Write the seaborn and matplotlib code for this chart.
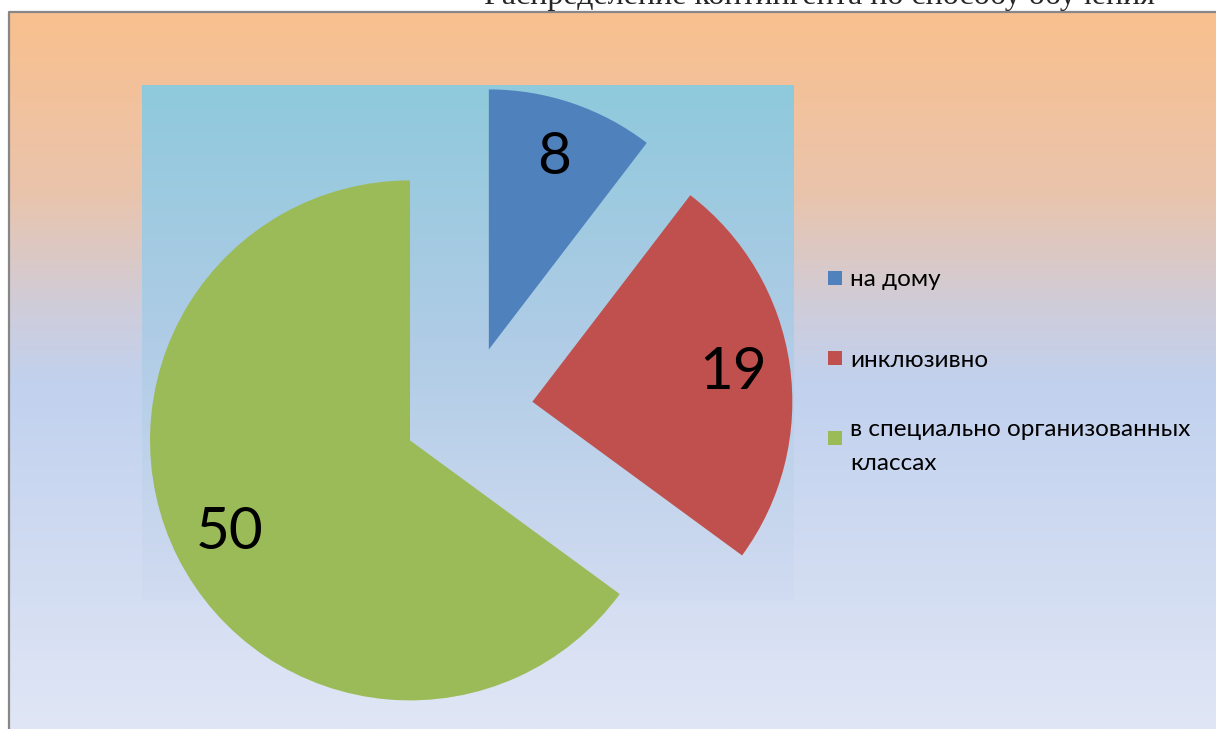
import numpy as np
import matplotlib.pyplot as plt
import seaborn as sns
from matplotlib.colors import LinearSegmentedColormap
from matplotlib.patches import Rectangle

# данные
categories = ['на дому', 'инклюзивно', 'в специально организованных\nклассах']
values = [8, 19, 50]
colors = ['#4F81BD', '#C0504D', '#9BBB59']
title = 'Распределение контингента по способу обучения'

sns.set_style('white')
plt.rcParams['font.family'] = ['Lato', 'DejaVu Sans']

W, H = 1216, 729
fig = plt.figure(figsize=(W / 100, H / 100), dpi=100)

##fondo en pixeles
bg = fig.add_axes([0, 0, 1, 1])
bg.set_xlim(0, W)
bg.set_ylim(H, 0)
bg.set_axis_off()

grad = np.linspace(0, 1, 256).reshape(-1, 1)
outer = LinearSegmentedColormap.from_list('outer', [
    (0.0, '#F9C08E'), (0.25, '#EAC4AC'), (0.42, '#CECDDC'),
    (0.52, '#C1D1EE'), (1.0, '#E0E6F5')])
inner = LinearSegmentedColormap.from_list('inner', [
    (0.0, '#8FC9DC'), (0.5, '#B0CCE6'), (1.0, '#D1DBF1')])

bx, by = 9, 12
bg.imshow(grad, cmap=outer, aspect='auto', extent=(bx, W, H, by), origin='upper')
bg.imshow(grad, cmap=inner, aspect='auto', extent=(142, 794, 600, 85), origin='upper')
bg.plot([bx, bx, W], [H, by, by], color='#878787', lw=1.6, solid_capstyle='butt')
bg.set_xlim(0, W)
bg.set_ylim(H, 0)

##pastel
cx, cy, r = 468, 411, 260
ax = fig.add_axes([0, 0, 1, 1])
total = sum(values)
wedges, texts, autotexts = ax.pie(
    values, colors=colors, startangle=90, counterclock=False,
    explode=[0.25] * len(values), pctdistance=0.78,
    autopct=lambda p: f'{p * total / 100:.0f}',
    wedgeprops=dict(linewidth=0),
    textprops=dict(fontsize=42, color='black'))
ax.set_xlim(-cx / r, (W - cx) / r)
ax.set_ylim(-(H - cy) / r, cy / r)
ax.set_axis_off()

##leyenda
leg_y = [278, 358, 438]
for lab, col, yy in zip(categories, colors, leg_y):
    fig.patches.append(Rectangle((828 / W, 1 - (yy + 7) / H), 14 / W, 14 / H,
                                 transform=fig.transFigure, facecolor=col,
                                 edgecolor='none'))
    fig.text(850 / W, 1 - yy / H, lab, fontsize=17.5, va='center_baseline',
             ha='left', linespacing=1.75, color='black')

fig.text(819 / W, 1 - 4 / H, title, ha='center', va='baseline',
         family=['Liberation Serif', 'DejaVu Serif'], fontsize=23)

fig.savefig('out.png', dpi=100)
